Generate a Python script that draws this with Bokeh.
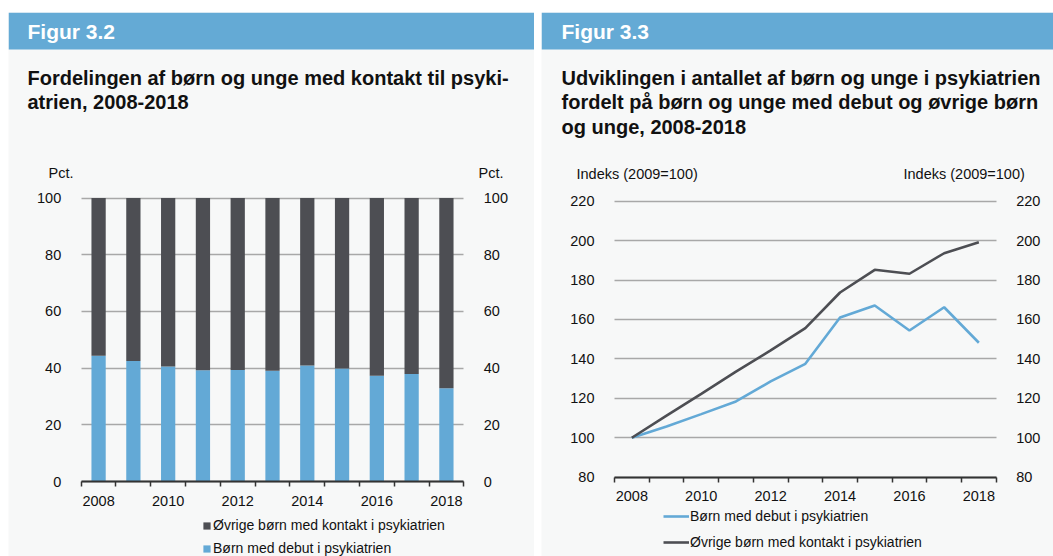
from bokeh.plotting import figure
from bokeh.models import (Range1d, FixedTicker, LinearAxis, Label, Legend,
                          LegendItem, ColumnDataSource, Spacer, BoxAnnotation)
from bokeh.layouts import row
from bokeh.embed import file_html
from bokeh.resources import INLINE

# ---------------- data ----------------
years = [2008, 2009, 2010, 2011, 2012, 2013, 2014, 2015, 2016, 2017, 2018]
x_tick_labels = ["2008", "2010", "2012", "2014", "2016", "2018"]

# Figur 3.2 (pct.)
debut_share = [44.4, 42.5, 40.6, 39.2, 39.3, 39.1, 40.9, 39.9, 37.3, 37.9, 32.9]
ovrige_share = [55.6, 57.5, 59.4, 60.8, 60.7, 60.9, 59.1, 60.1, 62.7, 62.1, 67.1]
pct_ticks = [0, 20, 40, 60, 80, 100]

# Figur 3.3 (indeks)
debut_index = [100, 105.7, 112.0, 118.4, 128.6, 137.5, 161.0, 167.1, 154.4, 166.2, 148.2]
ovrige_index = [100, 111.2, 122.3, 133.6, 144.3, 155.6, 173.7, 185.2, 183.2, 193.6, 199.2]
idx_ticks = [80, 100, 120, 140, 160, 180, 200, 220]

label_debut = "Børn med debut i psykiatrien"
label_ovrige = "Øvrige børn med kontakt i psykiatrien"

# ---------------- style ----------------
FONT = "Liberation Sans"
BLUE = "#63a9d6"
DARK = "#4d4e53"
BG = "#f7f8f8"
HEAD = "#64aad5"
GRID = "#a8a8a8"
TXT = "#111111"

PANEL_TOP = 12         # top of the blue header on the page
PAGE_H = 556


class Panel:
    """A panel whose frame fills the figure; page pixels are mapped to data units."""

    def __init__(self, fig_left, fig_width, border_left, chart_l, chart_r, chart_b,
                 chart_t, ylo, yhi, yticks):
        self.x0, self.x1 = years[0] - 0.5, years[-1] + 0.5
        self.cl, self.cb = chart_l, chart_b
        self.y0, self.y1 = ylo, yhi
        self.sx = (chart_r - chart_l) / (self.x1 - self.x0)
        self.sy = (chart_b - chart_t) / (yhi - ylo)
        left = fig_left + border_left
        right = fig_left + fig_width
        p = figure(width=fig_width, height=PAGE_H, title=None,
                   x_range=Range1d(self.X(left), self.X(right)),
                   y_range=Range1d(self.Y(PAGE_H), self.Y(PANEL_TOP)),
                   toolbar_location=None, output_backend="svg",
                   min_border_left=border_left, min_border_right=0, min_border_bottom=0,
                   min_border_top=PANEL_TOP, background_fill_color=BG,
                   border_fill_color="white", outline_line_color=None)
        self.p = p
        bounds = [y - 0.5 for y in years] + [years[-1] + 0.5]

        xa = p.xaxis[0]
        xa.fixed_location = ylo
        xa.bounds = (self.x0, self.x1)
        xa.ticker = FixedTicker(ticks=[int(t) for t in x_tick_labels], minor_ticks=bounds)
        xa.major_tick_in = 0
        xa.major_tick_out = 0
        xa.minor_tick_in = 0
        xa.minor_tick_out = 5
        xa.minor_tick_line_color = "#333333"
        xa.minor_tick_line_width = 1.5
        xa.axis_line_color = "#333333"
        xa.axis_line_width = 2
        xa.major_label_standoff = 9
        xa.major_label_text_font = FONT
        xa.major_label_text_font_size = "14.5px"
        xa.major_label_text_color = TXT

        ya = p.yaxis[0]
        ya.fixed_location = self.x0
        ra = LinearAxis(fixed_location=self.x1)
        p.add_layout(ra, "right")
        for a in (ya, ra):
            a.bounds = (ylo, yhi)
            a.ticker = FixedTicker(ticks=yticks)
            a.axis_line_color = None
            a.major_tick_line_color = None
            a.minor_tick_line_color = None
            a.major_label_standoff = 14
            a.major_label_text_font = FONT
            a.major_label_text_font_size = "14.5px"
            a.major_label_text_color = TXT

        p.xgrid.visible = False
        p.ygrid.ticker = FixedTicker(ticks=yticks)
        p.ygrid.bounds = (ylo, yhi)
        p.ygrid.cross_bounds = (self.x0, self.x1)
        p.ygrid.grid_line_color = GRID
        p.ygrid.grid_line_width = 1.3

        # blue header bar
        p.add_layout(BoxAnnotation(left=self.X(left), right=self.X(right),
                                   top=self.Y(PANEL_TOP), bottom=self.Y(49),
                                   fill_color=HEAD, fill_alpha=1, line_color=None,
                                   level="underlay"))

    def X(self, px):
        return self.x0 + (px - self.cl) / self.sx

    def Y(self, py):
        return self.y0 + (self.cb - py) / self.sy

    def text(self, px, py, text, size, bold=False, color=TXT):
        self.p.add_layout(Label(x=self.X(px), y=self.Y(py), text=text, text_font=FONT,
                                text_font_size=size,
                                text_font_style="bold" if bold else "normal",
                                text_color=color, text_baseline="middle"))


# ---------------- Figur 3.2 ----------------
L = Panel(0, 534, 8, 80.7, 463.3, 481, 197.5, 0, 100, pct_ticks)
p1 = L.p
src1 = ColumnDataSource(dict(year=years, debut=debut_share, ovrige=ovrige_share))
rs = p1.vbar_stack(["debut", "ovrige"], x="year", width=0.41, fill_color=[BLUE, DARK],
                   line_color=None, source=src1)
leg1 = Legend(items=[LegendItem(label=label_ovrige, renderers=[rs[1]]),
                     LegendItem(label=label_debut, renderers=[rs[0]])],
              location=(194, 0), glyph_width=9, glyph_height=9, label_height=14,
              spacing=7, label_standoff=2, padding=0, margin=0,
              background_fill_alpha=0, border_line_color=None,
              label_text_font=FONT, label_text_font_size="14px", label_text_color=TXT)
p1.add_layout(leg1)
L.text(27, 30.5, "Figur 3.2", "21px", True, "white")
L.text(27, 77.5, "Fordelingen af børn og unge med kontakt til psyki-", "20px", True)
L.text(27, 101.5, "atrien, 2008-2018", "20px", True)
L.text(48, 172, "Pct.", "14.5px")
L.text(478, 172, "Pct.", "14.5px")

# ---------------- Figur 3.3 ----------------
R = Panel(541, 512, 0, 614, 995.7, 476.7, 200.7, 80, 220, idx_ticks)
p2 = R.p
src2 = ColumnDataSource(dict(year=years, debut=debut_index, ovrige=ovrige_index))
r_debut = p2.line("year", "debut", source=src2, line_color=BLUE, line_width=2.6)
r_ovrige = p2.line("year", "ovrige", source=src2, line_color=DARK, line_width=2.6)
leg2 = Legend(items=[LegendItem(label=label_debut, renderers=[r_debut]),
                     LegendItem(label=label_ovrige, renderers=[r_ovrige])],
              location=(122, 4), glyph_width=26, glyph_height=20, label_height=20,
              spacing=6, label_standoff=1, padding=0, margin=0,
              background_fill_alpha=0, border_line_color=None,
              label_text_font=FONT, label_text_font_size="14px", label_text_color=TXT)
p2.add_layout(leg2)
R.text(561, 30.5, "Figur 3.3", "21px", True, "white")
R.text(561, 77.5, "Udviklingen i antallet af børn og unge i psykiatrien", "20px", True)
R.text(561, 101.5, "fordelt på børn og unge med debut og øvrige børn", "20px", True)
R.text(561, 126.5, "og unge, 2008-2018", "20px", True)
R.text(576, 173, "Indeks (2009=100)", "14.5px")
R.text(903, 173, "Indeks (2009=100)", "14.5px")

layout = row(p1, Spacer(width=7, height=PAGE_H), p2)

open("out.html", "w").write(file_html(layout, INLINE))
